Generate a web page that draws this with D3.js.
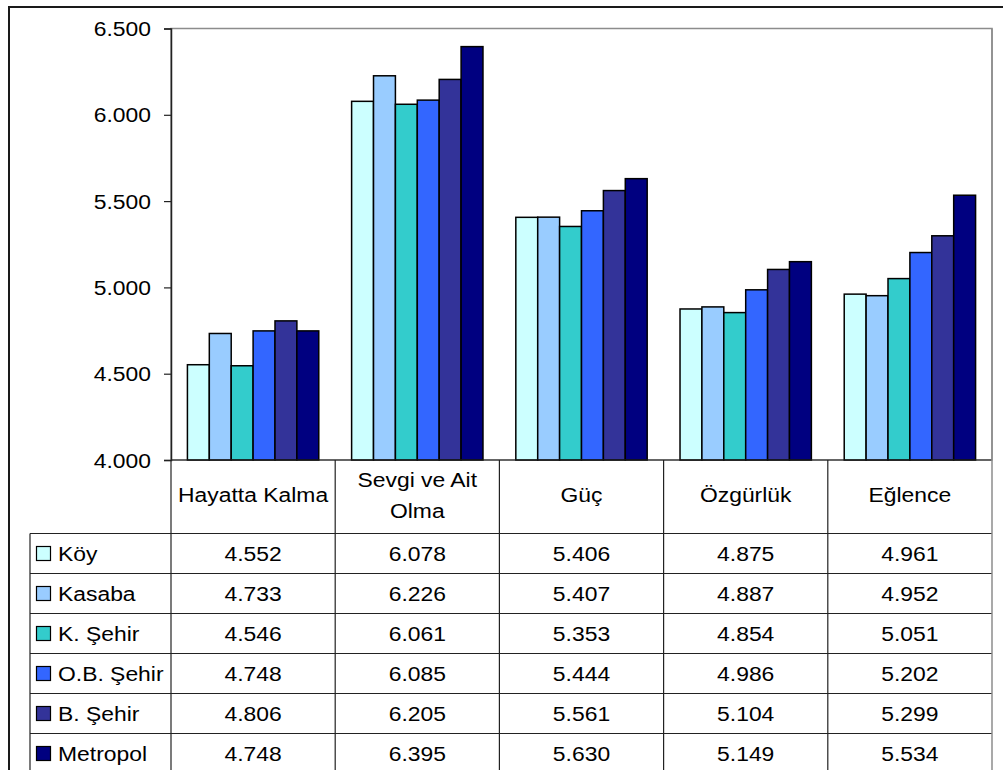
<!DOCTYPE html>
<html><head><meta charset="utf-8">
<script src="https://cdn.jsdelivr.net/npm/d3@7"></script>
<style>html,body{margin:0;padding:0;background:#fff;overflow:hidden}</style>
</head><body>
<svg id="c" width="1003" height="770"></svg>
<script>
const categories = ["Hayatta Kalma", "Sevgi ve Ait Olma", "Güç", "Özgürlük", "Eğlence"];
const categoryLines = [["Hayatta Kalma"], ["Sevgi ve Ait", "Olma"], ["Güç"], ["Özgürlük"], ["Eğlence"]];
const series = ["Köy", "Kasaba", "K. Şehir", "O.B. Şehir", "B. Şehir", "Metropol"];
const colors = ["#CCFFFF", "#99CCFF", "#33CCCC", "#3366FF", "#333399", "#000080"];
const koy      = [4.552, 6.078, 5.406, 4.875, 4.961];
const kasaba   = [4.733, 6.226, 5.407, 4.887, 4.952];
const kSehir   = [4.546, 6.061, 5.353, 4.854, 5.051];
const obSehir  = [4.748, 6.085, 5.444, 4.986, 5.202];
const bSehir   = [4.806, 6.205, 5.561, 5.104, 5.299];
const metropol = [4.748, 6.395, 5.630, 5.149, 5.534];
const values = [koy, kasaba, kSehir, obSehir, bSehir, metropol];
const yTicks = [4.0, 4.5, 5.0, 5.5, 6.0, 6.5];

const svg = d3.select("#c");
const FONT = "'Liberation Sans', Arial, sans-serif";
const FS = 21, SX = 1.09;
const fmt = v => d3.format(".3f")(v).replace(".", ".");

const L = 171, R = 992, T = 28.5, B = 460;
const tableLeft = 30, headerBottom = 533.5, rowH = 40;

const x = d3.scaleBand().domain(categories).range([L, R]).paddingInner(0).paddingOuter(0);
const xs = d3.scaleBand().domain(series).range([0, x.bandwidth()]).paddingInner(0).paddingOuter(0.75);
const y = d3.scaleLinear().domain([4.0, 6.5]).range([B, T]);

function txt(g, xp, yp, s, anchor) {
  g.append("text").attr("transform", `translate(${xp},${yp}) scale(${SX},1)`)
    .attr("text-anchor", anchor).attr("font-family", FONT).attr("font-size", FS)
    .attr("fill", "#000").text(s);
}

// outer frame
svg.append("rect").attr("x", 9).attr("y", 7).attr("width", 1100).attr("height", 900)
  .attr("fill", "none").attr("stroke", "#1a1a1a").attr("stroke-width", 2);

// plot area border
svg.append("rect").attr("x", L).attr("y", T).attr("width", R - L).attr("height", B - T)
  .attr("fill", "#fff").attr("stroke", "#8c8c8c").attr("stroke-width", 1.5);

// bars
const gb = svg.append("g");
series.forEach((s, si) => {
  gb.selectAll(null).data(categories).enter().append("rect")
    .attr("x", c => x(c) + xs(s))
    .attr("y", (c, ci) => y(values[si][ci]))
    .attr("width", xs.bandwidth())
    .attr("height", (c, ci) => B - y(values[si][ci]))
    .attr("fill", colors[si]).attr("stroke", "#000").attr("stroke-width", 1.5);
});

// y axis
const yAxis = d3.axisLeft(y).tickValues(yTicks).tickSize(7).tickFormat(d => "");
const ga = svg.append("g").attr("transform", `translate(${L},0)`).call(yAxis);
ga.select(".domain").attr("stroke", "#222").attr("stroke-width", 1.5);
ga.selectAll(".tick line").attr("stroke", "#222").attr("stroke-width", 1.2);
const gl = svg.append("g");
yTicks.forEach(t => txt(gl, 151, y(t) + 7.5, fmt(t), "end"));

// data table
const gt = svg.append("g");
const lineC = "#222";
// horizontal lines
gt.append("line").attr("x1", L).attr("x2", R).attr("y1", B).attr("y2", B).attr("stroke", lineC).attr("stroke-width", 1.2);
for (let r = 0; r <= series.length; r++) {
  const yy = headerBottom + r * rowH;
  gt.append("line").attr("x1", tableLeft).attr("x2", R).attr("y1", yy).attr("y2", yy)
    .attr("stroke", lineC).attr("stroke-width", 1.2);
}
// vertical lines
categories.forEach(c => {
  gt.append("line").attr("x1", x(c)).attr("x2", x(c)).attr("y1", B).attr("y2", 800)
    .attr("stroke", lineC).attr("stroke-width", 1.2);
});
gt.append("line").attr("x1", R).attr("x2", R).attr("y1", T).attr("y2", 800)
  .attr("stroke", "#8c8c8c").attr("stroke-width", 1.5);
gt.append("line").attr("x1", tableLeft).attr("x2", tableLeft).attr("y1", headerBottom).attr("y2", 800)
  .attr("stroke", lineC).attr("stroke-width", 1.2);

// headers
categories.forEach((c, ci) => {
  const cx = x(c) + x.bandwidth() / 2;
  const lines = categoryLines[ci];
  if (lines.length === 1) txt(gt, cx, 502, lines[0], "middle");
  else lines.forEach((ln, li) => txt(gt, cx, 487 + li * 31, ln, "middle"));
});

// rows
series.forEach((s, si) => {
  const yc = headerBottom + si * rowH + rowH / 2;
  gt.append("rect").attr("x", 36.5).attr("y", yc - 7).attr("width", 14).attr("height", 14)
    .attr("fill", colors[si]).attr("stroke", "#000").attr("stroke-width", 1.2);
  txt(gt, 58, yc + 7.5, s, "start");
  categories.forEach((c, ci) => {
    txt(gt, x(c) + x.bandwidth() / 2, yc + 7.5, fmt(values[si][ci]), "middle");
  });
});
</script>
</body></html>
